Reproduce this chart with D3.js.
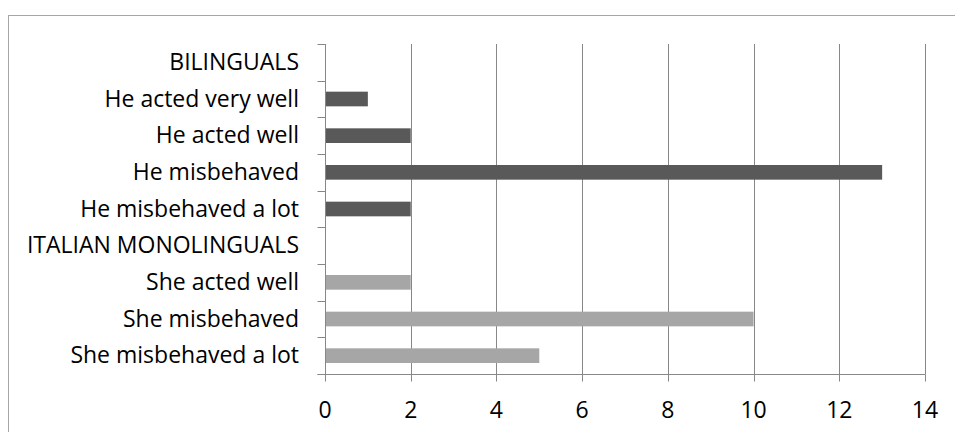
<!DOCTYPE html>
<html>
<head>
<meta charset="utf-8">
<script src="https://cdnjs.cloudflare.com/ajax/libs/d3/7.8.5/d3.min.js"></script>
<style>
  html, body { margin: 0; padding: 0; background: #fff; }
  svg { display: block; }
  text { font-family: "Open Sans", sans-serif; fill: #000; }
</style>
</head>
<body>
<svg id="chart" width="955" height="432"></svg>
<script>
// Response categories, top to bottom
const categories = [
  "BILINGUALS",
  "He acted very well",
  "He acted well",
  "He misbehaved",
  "He misbehaved a lot",
  "ITALIAN MONOLINGUALS",
  "She acted well",
  "She misbehaved",
  "She misbehaved a lot"
];
// Counts per category (null = group heading, no bar)
const values = [null, 1, 2, 13, 2, null, 2, 10, 5];
// Group each row belongs to
const groups = ["bi", "bi", "bi", "bi", "bi", "mono", "mono", "mono", "mono"];
const xTicks = [0, 2, 4, 6, 8, 10, 12, 14];

const colors = { bi: "#595959", mono: "#a6a6a6" };
const gridColor = "#878787";
const fontSize = 23;

const svg = d3.select("#chart");
const margin = { left: 325, right: 30, top: 44, bottom: 58 };
const W = 955, H = 432;

// Chart frame
svg.append("rect")
  .attr("x", 8.5).attr("y", 15.5)
  .attr("width", 960).attr("height", 430)
  .attr("fill", "none").attr("stroke", "#a6a6a6").attr("stroke-width", 1);

const x = d3.scaleLinear().domain([0, 14]).range([margin.left, W - margin.right]);
const y = d3.scaleBand().domain(categories).range([margin.top, H - margin.bottom]).paddingInner(0).paddingOuter(0);

const g = svg.append("g");

// Vertical gridlines
g.selectAll("line.grid").data(xTicks.filter(d => d > 0)).join("line")
  .attr("class", "grid")
  .attr("x1", d => Math.round(x(d)) + 0.5).attr("x2", d => Math.round(x(d)) + 0.5)
  .attr("y1", y.range()[0]).attr("y2", y.range()[1])
  .attr("stroke", gridColor).attr("stroke-width", 1);

// Bars
const barH = y.bandwidth() * 0.4;
g.selectAll("rect.bar").data(categories.map((c, i) => ({ c, v: values[i], grp: groups[i] })).filter(d => d.v != null))
  .join("rect")
  .attr("class", "bar")
  .attr("x", x(0))
  .attr("y", d => y(d.c) + (y.bandwidth() - barH) / 2)
  .attr("width", d => x(d.v) - x(0))
  .attr("height", barH)
  .attr("fill", d => colors[d.grp]);

// Y axis: boundary ticks, labels right-aligned
const yAxisX = Math.round(x(0)) + 0.5;
const bounds = categories.map(c => y(c)).concat([y.range()[1]]);
g.append("line")
  .attr("x1", yAxisX).attr("x2", yAxisX)
  .attr("y1", y.range()[0]).attr("y2", y.range()[1])
  .attr("stroke", gridColor);
g.selectAll("line.ytick").data(bounds).join("line")
  .attr("class", "ytick")
  .attr("x1", yAxisX - 8).attr("x2", yAxisX)
  .attr("y1", d => Math.round(d) + 0.5).attr("y2", d => Math.round(d) + 0.5)
  .attr("stroke", gridColor);
g.selectAll("text.ylab").data(categories).join("text")
  .attr("class", "ylab")
  .attr("x", x(0) - 26)
  .attr("y", d => y(d) + y.bandwidth() / 2)
  .attr("dy", "0.33em")
  .attr("text-anchor", "end")
  .attr("font-size", fontSize)
  .text(d => d);

// X axis
const xAxisY = Math.round(y.range()[1]) + 0.5;
g.append("line")
  .attr("x1", yAxisX - 8).attr("x2", Math.round(x(14)) + 0.5)
  .attr("y1", xAxisY).attr("y2", xAxisY)
  .attr("stroke", gridColor);
g.selectAll("line.xtick").data(xTicks).join("line")
  .attr("class", "xtick")
  .attr("x1", d => Math.round(x(d)) + 0.5).attr("x2", d => Math.round(x(d)) + 0.5)
  .attr("y1", xAxisY).attr("y2", xAxisY + 7)
  .attr("stroke", gridColor);
g.selectAll("text.xlab").data(xTicks).join("text")
  .attr("class", "xlab")
  .attr("x", d => x(d))
  .attr("y", xAxisY + 43)
  .attr("text-anchor", "middle")
  .attr("font-size", fontSize)
  .text(d => d);
</script>
</body>
</html>
